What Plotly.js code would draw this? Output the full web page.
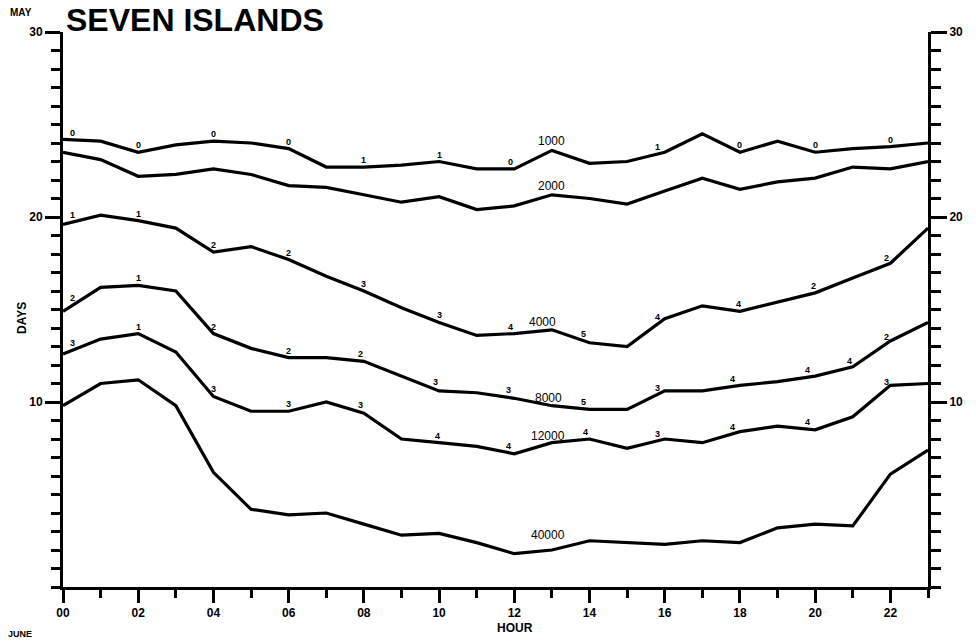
<!DOCTYPE html>
<html>
<head>
<meta charset="utf-8">
<script src="https://cdn.plot.ly/plotly-3.0.1.min.js"></script>
<style>html,body{margin:0;padding:0;background:#fff;}#chart{width:976px;height:641px;}</style>
</head>
<body>
<div id="chart"></div>
<script>
// Hours of day (x values)
const hours = [0,1,2,3,4,5,6,7,8,9,10,11,12,13,14,15,16,17,18,19,20,21,22,23];
const xTickVals = [0,2,4,6,8,10,12,14,16,18,20,22];
const xTickText = ["00","02","04","06","08","10","12","14","16","18","20","22"];
const yTickVals = [10,20,30];
const yTickText = ["10","20","30"];

// Series (days)
const names = ["1000","2000","4000","8000","12000","40000"];
const s1000  = [24.2,24.1,23.5,23.9,24.1,24.0,23.7,22.7,22.7,22.8,23.0,22.6,22.6,23.6,22.9,23.0,23.5,24.5,23.5,24.1,23.5,23.7,23.8,24.0];
const s2000  = [23.5,23.1,22.2,22.3,22.6,22.3,21.7,21.6,21.2,20.8,21.1,20.4,20.6,21.2,21.0,20.7,21.4,22.1,21.5,21.9,22.1,22.7,22.6,23.0];
const s4000  = [19.6,20.1,19.8,19.4,18.1,18.4,17.7,16.8,16.0,15.1,14.3,13.6,13.7,13.9,13.2,13.0,14.5,15.2,14.9,15.4,15.9,16.7,17.5,19.4];
const s8000  = [14.9,16.2,16.3,16.0,13.7,12.9,12.4,12.4,12.2,11.4,10.6,10.5,10.2,9.8,9.6,9.6,10.6,10.6,10.9,11.1,11.4,11.9,13.3,14.3];
const s12000 = [12.6,13.4,13.7,12.7,10.3,9.5,9.5,10.0,9.4,8.0,7.8,7.6,7.2,7.8,8.0,7.5,8.0,7.8,8.4,8.7,8.5,9.2,10.9,11.0];
const s40000 = [9.8,11.0,11.2,9.8,6.2,4.2,3.9,4.0,3.4,2.8,2.9,2.4,1.8,2.0,2.5,2.4,2.3,2.5,2.4,3.2,3.4,3.3,6.1,7.4];
const series = [s1000,s2000,s4000,s8000,s12000,s40000];

// Series name label positions (hour)
const nameLabelHours = [13.0,13.0,12.75,12.9,12.9,12.9];
const nameLabelShift = [9,9,9,7,8,15];

// Small number labels along lines
const numHours = [
  [0.25,2,4,6,8,10,11.9,15.8,18,20,22],
  [],
  [0.25,2,4,6,8,10,11.9,13.85,15.8,17.95,19.95,21.9],
  [0.25,2,4,6,7.9,9.9,11.85,13.85,15.8,17.8,19.8,20.9,21.9],
  [0.25,2,4,6,7.9,9.95,11.85,13.9,15.8,17.8,19.8,21.9],
  []
];
const numTexts = [
  ["0","0","0","0","1","1","0","1","0","0","0"],
  [],
  ["1","1","2","2","3","3","4","5","4","4","2","2"],
  ["2","1","2","2","2","3","3","5","3","4","4","4","2"],
  ["3","1","3","3","3","4","4","4","3","4","4","3"],
  []
];

function interp(arr, h){
  const i = Math.min(Math.floor(h), hours.length-2);
  const t = h - hours[i];
  return arr[i] + (arr[i+1]-arr[i])*t;
}

const FONT = "Liberation Sans, Arial, Helvetica, sans-serif";
const L=63,R=48,T=32,B=54, W=976,H=641;
function px(xp){ return (xp-L)/(W-L-R); }
function py(yp){ return 1-(yp-T)/(H-T-B); }

const traces = series.map((s,k)=>({
  x: hours, y: s, type:'scatter', mode:'lines', name: names[k],
  line:{color:'#000', width:3.2}, showlegend:false, hoverinfo:'skip'
}));

const annotations = [];
series.forEach((s,k)=>{
  annotations.push({x:nameLabelHours[k], y:interp(s,nameLabelHours[k]), xref:'x', yref:'y',
    xanchor:'center', yanchor:'middle',
    text:names[k], showarrow:false, yshift:nameLabelShift[k], font:{family:FONT,size:12,color:'#000'}});
  numHours[k].forEach((h,j)=>{
    annotations.push({x:h, y:interp(s,h), xref:'x', yref:'y', text:numTexts[k][j], showarrow:false,
      xanchor:'center', yanchor:'middle',
      yshift:7, font:{family:FONT,size:9,color:'#000',weight:'bold'}});
  });
});
function paperText(text, xp, yp, size, angle){
  annotations.push({x:px(xp), y:py(yp), xref:'paper', yref:'paper', xanchor:'center', yanchor:'middle',
    text:text, showarrow:false, textangle:angle||0,
    font:{family:FONT,size:size,color:'#000',weight:'bold'}});
}
paperText('MAY', 21, 13, 10);
paperText('DAYS', 22, 318, 12, -90);
paperText('HOUR', 515, 628, 12);
paperText('JUNE', 20, 634, 9);

const layout = {
  width:W, height:H,
  margin:{l:L,r:R,t:T,b:B,pad:0},
  paper_bgcolor:'#fff', plot_bgcolor:'#fff',
  title:{text:'SEVEN ISLANDS', x:66/976, xanchor:'left', y:1-20/641, yanchor:'middle',
    font:{family:FONT,size:32,color:'#000',weight:'bold'}},
  xaxis:{range:[0,23], showgrid:false, zeroline:false, showline:true, linecolor:'#000', linewidth:3,
    tickvals:xTickVals, ticktext:xTickText, ticks:'outside', ticklen:13, tickwidth:3, tickcolor:'#000',
    minor:{dtick:1, tick0:0, ticks:'outside', ticklen:8, tickwidth:3, tickcolor:'#000', showgrid:false},
    tickfont:{family:FONT,size:12,color:'#000',weight:'bold'}},
  yaxis:{range:[0,30], showgrid:false, zeroline:false, showline:true, linecolor:'#000', linewidth:3,
    tickvals:yTickVals, ticktext:yTickText, ticks:'outside', ticklen:15, tickwidth:3, tickcolor:'#000',
    minor:{dtick:1, tick0:0, ticks:'outside', ticklen:9, tickwidth:3, tickcolor:'#000', showgrid:false},
    tickfont:{family:FONT,size:12,color:'#000',weight:'bold'}},
  yaxis2:{range:[0,30], overlaying:'y', side:'right', showgrid:false, zeroline:false, showline:true,
    linecolor:'#000', linewidth:3,
    tickvals:yTickVals, ticktext:yTickText, ticks:'outside', ticklen:16, tickwidth:3, tickcolor:'#000',
    minor:{dtick:1, tick0:0, ticks:'outside', ticklen:10, tickwidth:3, tickcolor:'#000', showgrid:false},
    tickfont:{family:FONT,size:12,color:'#000',weight:'bold'}},
  annotations: annotations
};

traces.push({x:[hours[0]], y:[s1000[0]], yaxis:'y2', type:'scatter', mode:'markers',
  marker:{opacity:0}, showlegend:false, hoverinfo:'skip'});

Plotly.newPlot('chart', traces, layout, {displayModeBar:false, staticPlot:true});
</script>
</body>
</html>
